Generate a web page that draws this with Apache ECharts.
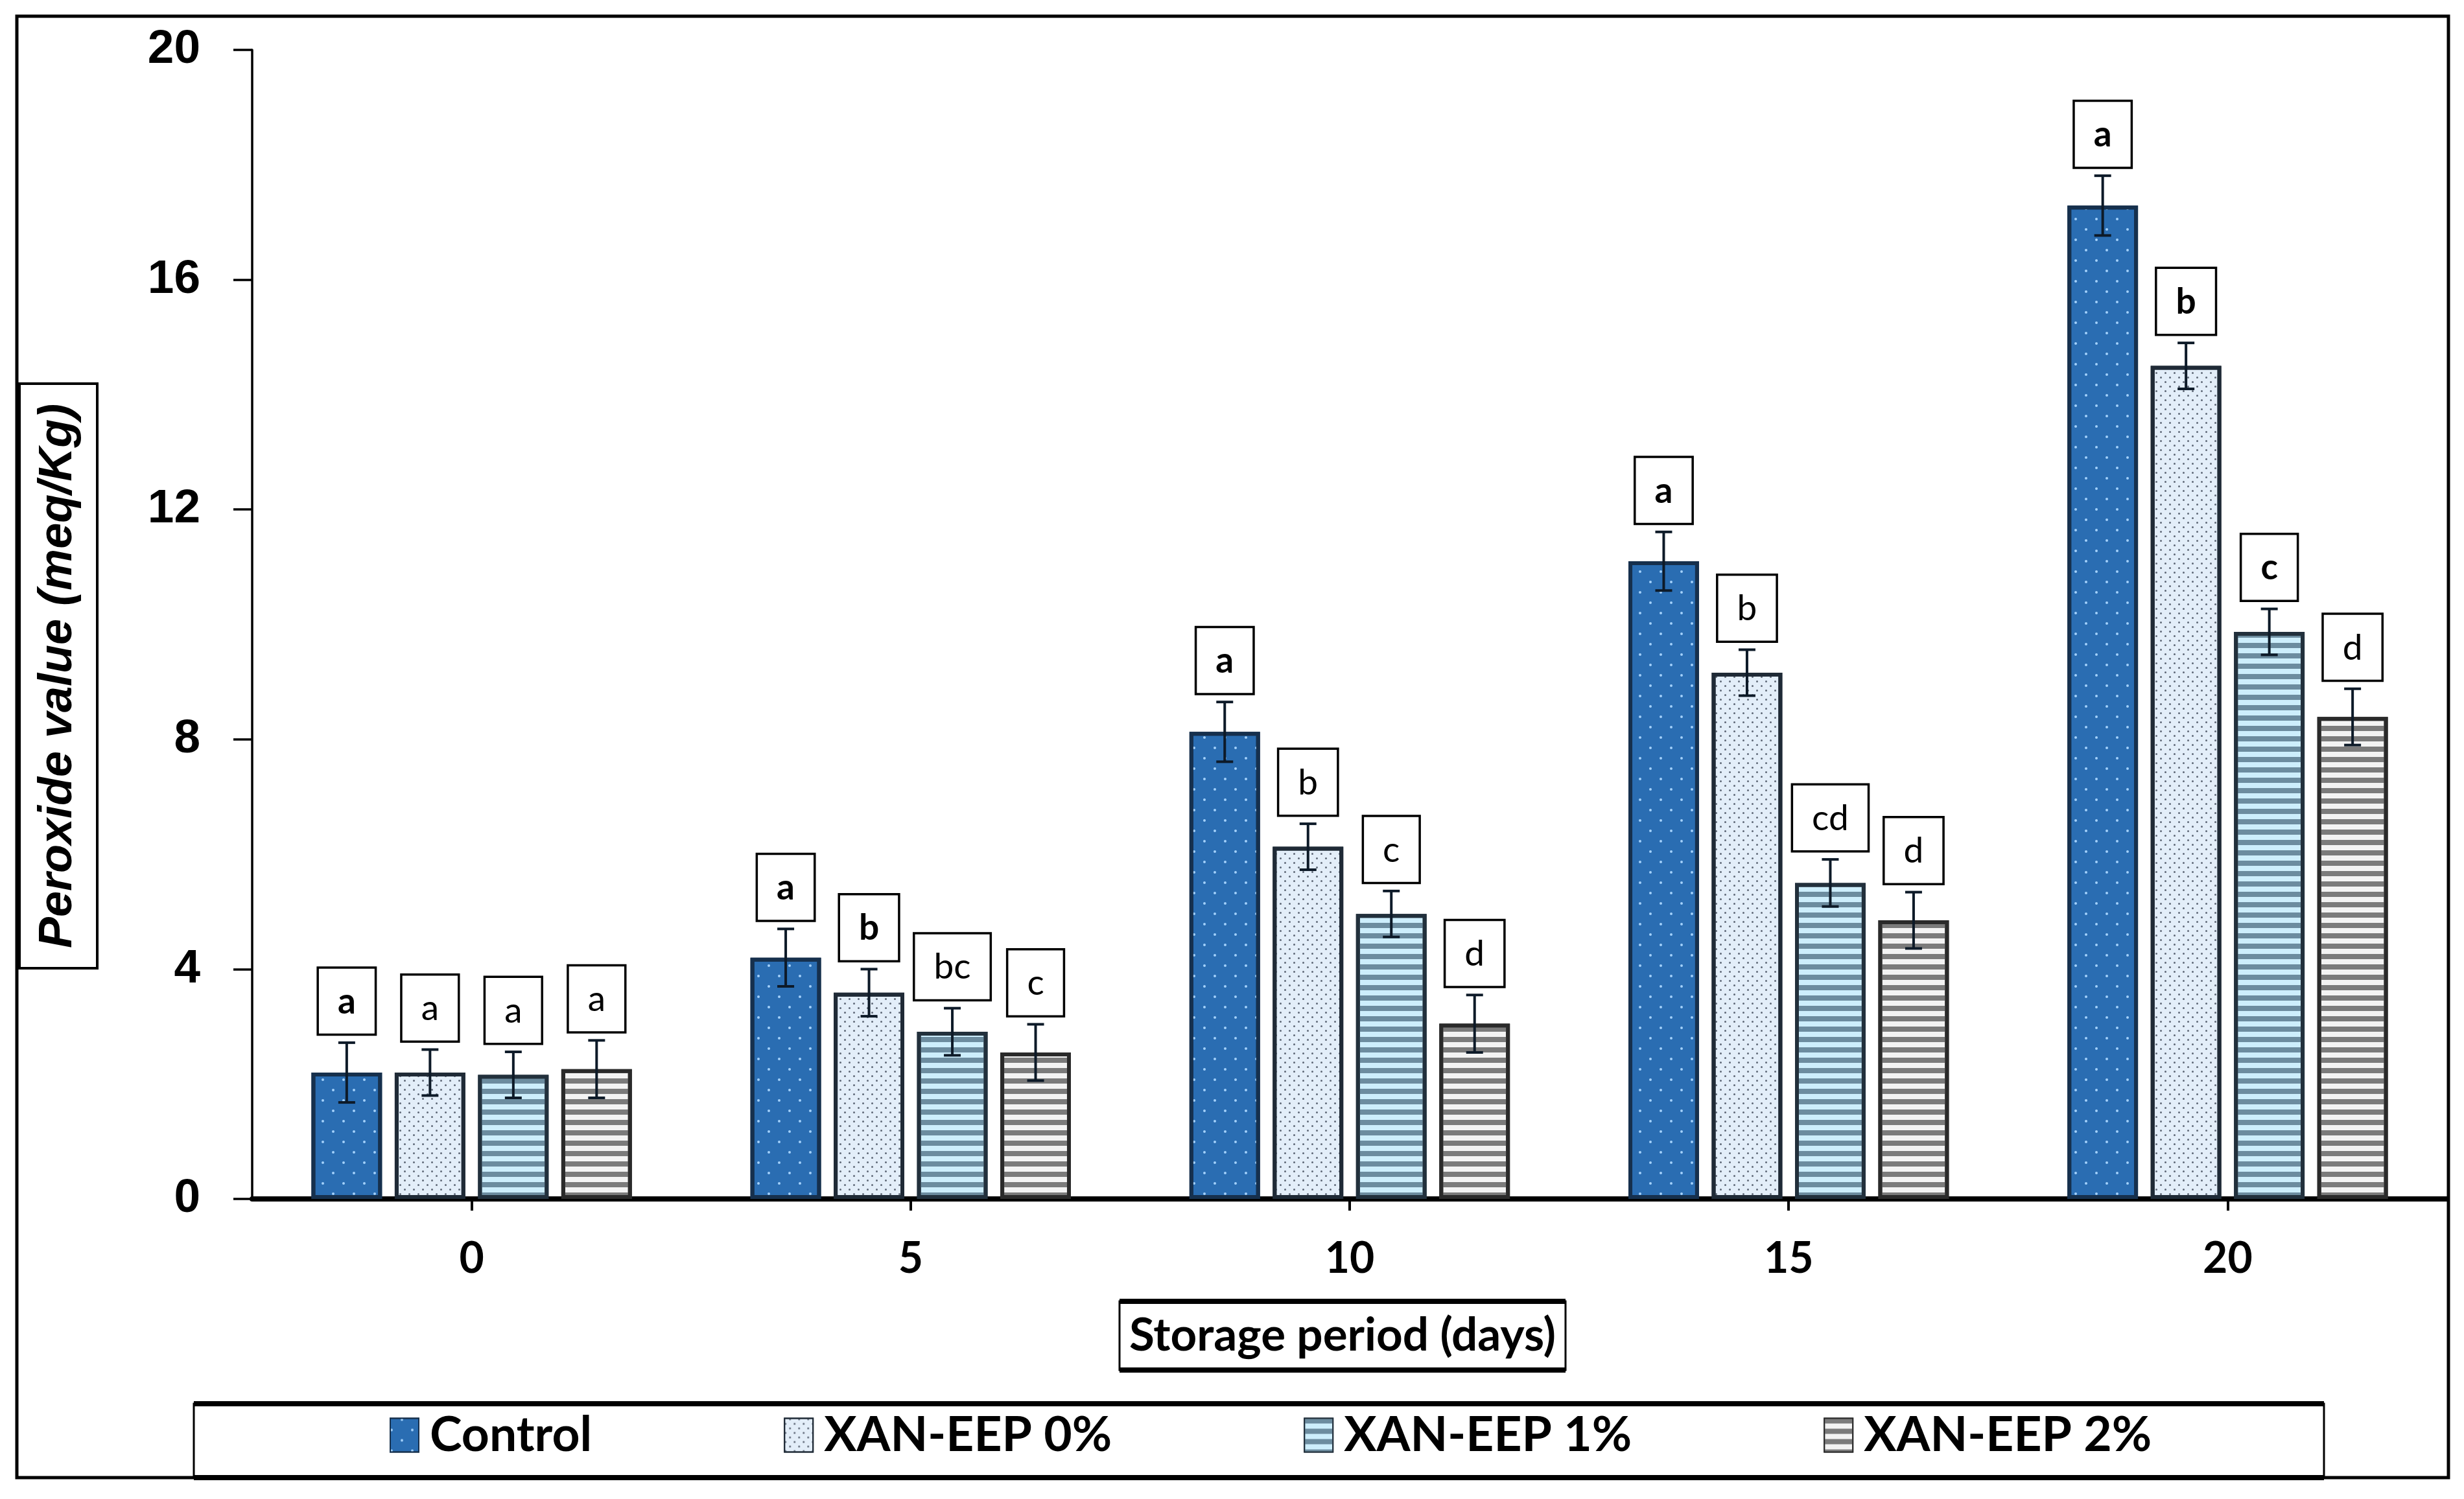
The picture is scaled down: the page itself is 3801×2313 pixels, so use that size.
<!DOCTYPE html>
<html>
<head>
<meta charset="utf-8">
<script src="https://cdn.jsdelivr.net/npm/echarts@6/dist/echarts.min.js"></script>
<style>
html,body{margin:0;padding:0;background:#fff;}
#chart{width:3801px;height:2313px;}
</style>
</head>
<body>
<div id="chart"></div>
<script>
// ---------- data ----------
const categories = ['0', '5', '10', '15', '20'];
const seriesNames = ['Control', 'XAN-EEP 0%', 'XAN-EEP 1%', 'XAN-EEP 2%'];

const controlValues = [2.20, 4.20, 8.13, 11.10, 17.29];
const xan0Values    = [2.20, 3.59, 6.13, 9.16, 14.50];
const xan1Values    = [2.16, 2.91, 4.96, 5.50, 9.87];
const xan2Values    = [2.26, 2.55, 3.05, 4.85, 8.39];

const controlSD = [0.52, 0.50, 0.52, 0.51, 0.52];
const xan0SD    = [0.40, 0.41, 0.40, 0.40, 0.40];
const xan1SD    = [0.40, 0.41, 0.40, 0.41, 0.40];
const xan2SD    = [0.50, 0.49, 0.50, 0.49, 0.49];

const controlLetters = ['a', 'a', 'a', 'a', 'a'];
const xan0Letters    = ['a', 'b', 'b', 'b', 'b'];
const xan1Letters    = ['a', 'bc', 'c', 'cd', 'c'];
const xan2Letters    = ['a', 'c', 'd', 'd', 'd'];

const yMin = 0, yMax = 20, yInterval = 4;

// ---------- styles ----------
const boldLetters = [
  [1, 1, 1, 1, 1],
  [0, 1, 0, 0, 1],
  [0, 0, 0, 0, 1],
  [0, 0, 0, 0, 0]
];
const BAR_GAP = '18%';
const CAT_GAP = '27%';
const calibri = 'Lato, "Open Sans", sans-serif';

const barStyles = [
  { color: '#2a6db2', borderColor: '#16304d', borderWidth: 6,
    decal: { symbol: 'circle', color: 'rgba(170,215,255,0.95)', symbolSize: 1,
             dashArrayX: [[4, 28], [0, 16, 4, 12]], dashArrayY: [4, 12] } },
  { color: '#e3eef9', borderColor: '#1f2a36', borderWidth: 6,
    decal: { symbol: 'circle', color: 'rgba(70,80,95,0.85)', symbolSize: 1,
             dashArrayX: [[3, 11], [0, 7, 3, 4]], dashArrayY: [3, 4] } },
  { color: '#cdeefc', borderColor: '#22303c', borderWidth: 6,
    decal: { symbol: 'rect', color: '#6c8c9f', symbolSize: 1,
             dashArrayX: [1, 0], dashArrayY: [8, 8], rotation: 0 } },
  { color: '#f3f3f3', borderColor: '#2a2a2a', borderWidth: 6,
    decal: { symbol: 'rect', color: '#7b7b7b', symbolSize: 1,
             dashArrayX: [1, 0], dashArrayY: [8, 8], rotation: 0 } }
];

const valueSets = [controlValues, xan0Values, xan1Values, xan2Values];
const sdSets = [controlSD, xan0SD, xan1SD, xan2SD];
const letterSets = [controlLetters, xan0Letters, xan1Letters, xan2Letters];

const chart = echarts.init(document.getElementById('chart'), null, { renderer: 'canvas' });

const barSeries = seriesNames.map((name, i) => ({
  type: 'bar',
  name: name,
  data: valueSets[i],
  barGap: BAR_GAP,
  barCategoryGap: CAT_GAP,
  z: 2,
  itemStyle: barStyles[i],
  emphasis: { disabled: true }
}));

function errSeries(idx) {
  const vals = valueSets[idx], sds = sdSets[idx], letters = letterSets[idx];
  return {
    type: 'custom',
    name: seriesNames[idx] + ' error',
    z: 5,
    silent: true,
    data: vals.map((v, i) => [i, v, sds[i]]),
    encode: { x: 0, y: 1 },
    renderItem: function (params, api) {
      const ci = api.value(0), v = api.value(1), sd = api.value(2);
      const di = params.dataIndex;
      let offset;
      let layout = api.barLayout ? api.barLayout({ count: 4, barGap: BAR_GAP, barCategoryGap: CAT_GAP }) : null;
      if (layout && layout[idx]) {
        offset = layout[idx].offsetCenter;
      } else {
        const bandW = api.size([1, 0])[0];
        const groupW = bandW * 0.73;
        const w = groupW / (4 + 3 * 0.18);
        offset = -groupW / 2 + idx * w * 1.18 + w / 2;
      }
      const base = api.coord([ci, v]);
      const x = base[0] + offset;
      const yHi = api.coord([ci, v + sd])[1];
      const yLo = api.coord([ci, v - sd])[1];
      const cap = 13;
      const lineStyle = { stroke: '#0d1a28', lineWidth: 4 };
      return {
        type: 'group',
        children: [
          { type: 'line', shape: { x1: x, y1: yHi, x2: x, y2: yLo }, style: lineStyle },
          { type: 'line', shape: { x1: x - cap, y1: yHi, x2: x + cap, y2: yHi }, style: lineStyle },
          { type: 'line', shape: { x1: x - cap, y1: yLo, x2: x + cap, y2: yLo }, style: lineStyle },
          {
            type: 'text',
            x: x, y: yHi - 14,
            style: {
              text: letters[di],
              font: (boldLetters[idx][di] ? 'bold ' : '') + '55px ' + calibri,
              fill: '#000',
              align: 'center',
              verticalAlign: 'bottom',
              lineHeight: 58,
              backgroundColor: '#ffffff',
              borderColor: '#000000',
              borderWidth: 3.5,
              padding: [22, 29, 20, 29]
            }
          }
        ]
      };
    }
  };
}

function boxGraphic(x, y, w, h, z) {
  return [
    { type: 'rect', z: z, shape: { x: x, y: y, width: w, height: h },
      style: { fill: '#fff', stroke: '#000', lineWidth: 3 } },
    { type: 'line', z: z + 1, shape: { x1: x, y1: y, x2: x + w, y2: y }, style: { stroke: '#000', lineWidth: 8 } },
    { type: 'line', z: z + 1, shape: { x1: x, y1: y + h, x2: x + w, y2: y + h }, style: { stroke: '#000', lineWidth: 8 } }
  ];
}

const graphics = [].concat(
  [{ type: 'rect', z: -10, silent: true, shape: { x: 26, y: 25, width: 3751, height: 2255 },
     style: { fill: 'none', stroke: '#000', lineWidth: 5 } }],
  // y axis title box
  [{ type: 'rect', z: 1, shape: { x: 30, y: 592, width: 120, height: 902 },
     style: { fill: '#fff', stroke: '#000', lineWidth: 4 } },
   { type: 'text', z: 2, x: 90, y: 1043, rotation: Math.PI / 2,
     style: { text: 'Peroxide value (meq/Kg)', font: 'italic bold 72px "Liberation Sans", Arial, sans-serif',
              fill: '#000', align: 'center', verticalAlign: 'middle' } }],
  // x axis title box
  boxGraphic(1727, 2008, 688, 106, 1),
  [{ type: 'text', z: 3, x: 2071, y: 2061,
     style: { text: 'Storage period (days)', font: 'bold 71px ' + calibri,
              fill: '#000', align: 'center', verticalAlign: 'middle' } }],
  // legend box
  boxGraphic(299, 2166, 3286, 114, -5)
);

const option = {
  backgroundColor: '#ffffff',
  animation: false,
  grid: { left: 389, right: 26, top: 77, bottom: 463, containLabel: false },
  legend: {
    data: seriesNames,
    left: 596,
    top: 2172,
    itemGap: 296,
    itemWidth: 44,
    itemHeight: 52,
    icon: 'rect',
    selectedMode: false,
    textStyle: { fontFamily: calibri, fontWeight: 'bold', fontSize: 75, color: '#000', padding: [0, 0, 0, 12] }
  },
  xAxis: {
    type: 'category',
    data: categories,
    axisLine: { show: true, lineStyle: { color: '#000', width: 8 } },
    axisTick: { show: true, alignWithLabel: true, length: 18, lineStyle: { color: '#000', width: 4 } },
    axisLabel: { color: '#000', fontFamily: calibri, fontWeight: 'bold', fontSize: 66, margin: 60 },
    splitLine: { show: false }
  },
  yAxis: {
    type: 'value',
    min: yMin, max: yMax, interval: yInterval,
    axisLine: { show: true, lineStyle: { color: '#000', width: 3.5 } },
    axisTick: { show: true, length: 29, lineStyle: { color: '#000', width: 3.5 } },
    axisLabel: { color: '#000', fontFamily: '"Liberation Sans", Arial, sans-serif', fontWeight: 'bold', fontSize: 73, margin: 80 },
    splitLine: { show: false }
  },
  graphic: graphics,
  series: barSeries.concat([0, 1, 2, 3].map(errSeries))
};

chart.setOption(option);
</script>
</body>
</html>
